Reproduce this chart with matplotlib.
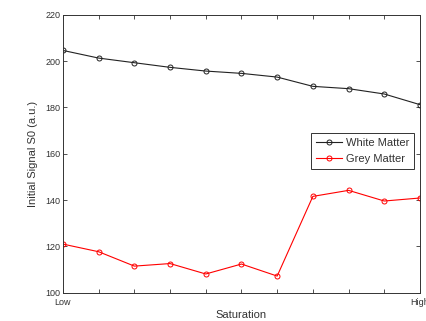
import matplotlib.pyplot as plt
import numpy as np

plt.rcParams['font.family'] = ['Liberation Sans', 'DejaVu Sans']

# values
positions = np.arange(11)
white_matter = [204.6, 201.3, 199.3, 197.3, 195.7, 194.7, 193.1, 189.1, 188.1, 185.8, 181.2]
grey_matter = [121.0, 117.7, 111.5, 112.6, 108.1, 112.4, 107.2, 141.6, 144.2, 139.6, 140.9]
tick_labels = ['Low'] + [''] * 9 + ['High']

fig = plt.figure(figsize=(4.27, 3.21), dpi=100)
ax = fig.add_axes([0.1475, 0.088, 0.836, 0.866])

ax.plot(positions, white_matter, color='#222222', lw=0.8, marker='o', ms=3.6,
        mfc='none', mec='#222222', mew=0.7, label='White Matter')
ax.plot(positions, grey_matter, color='red', lw=0.8, marker='o', ms=3.6,
        mfc='none', mec='red', mew=0.7, label='Grey Matter')

ax.set_xlim(0, 10)
ax.set_ylim(100, 220)
ax.set_xticks(positions)
ax.set_xticklabels(tick_labels)
ax.set_yticks(np.arange(100, 221, 20))
ax.tick_params(direction='in', top=True, right=True, length=3, width=0.6,
               labelsize=6.5, colors='#333333', pad=2)
ax.tick_params(axis='x', pad=4)
for s in ax.spines.values():
    s.set_linewidth(0.7)
    s.set_color('#333333')

ax.set_xlabel('Saturation', fontsize=8, color='#333333', labelpad=2)
ax.set_ylabel('Initial Signal S0 (a.u.)', fontsize=8, color='#333333', labelpad=5)

leg = ax.legend(loc='upper left', bbox_to_anchor=(0.694, 0.574), borderaxespad=0,
                fontsize=8, fancybox=False, framealpha=1, edgecolor='#333333',
                handlelength=2.4, borderpad=0.45, labelspacing=0.55, handletextpad=0.3)
leg.get_frame().set_linewidth(0.7)
for t in leg.get_texts():
    t.set_color('#333333')

fig.savefig('out.png', dpi=100)
